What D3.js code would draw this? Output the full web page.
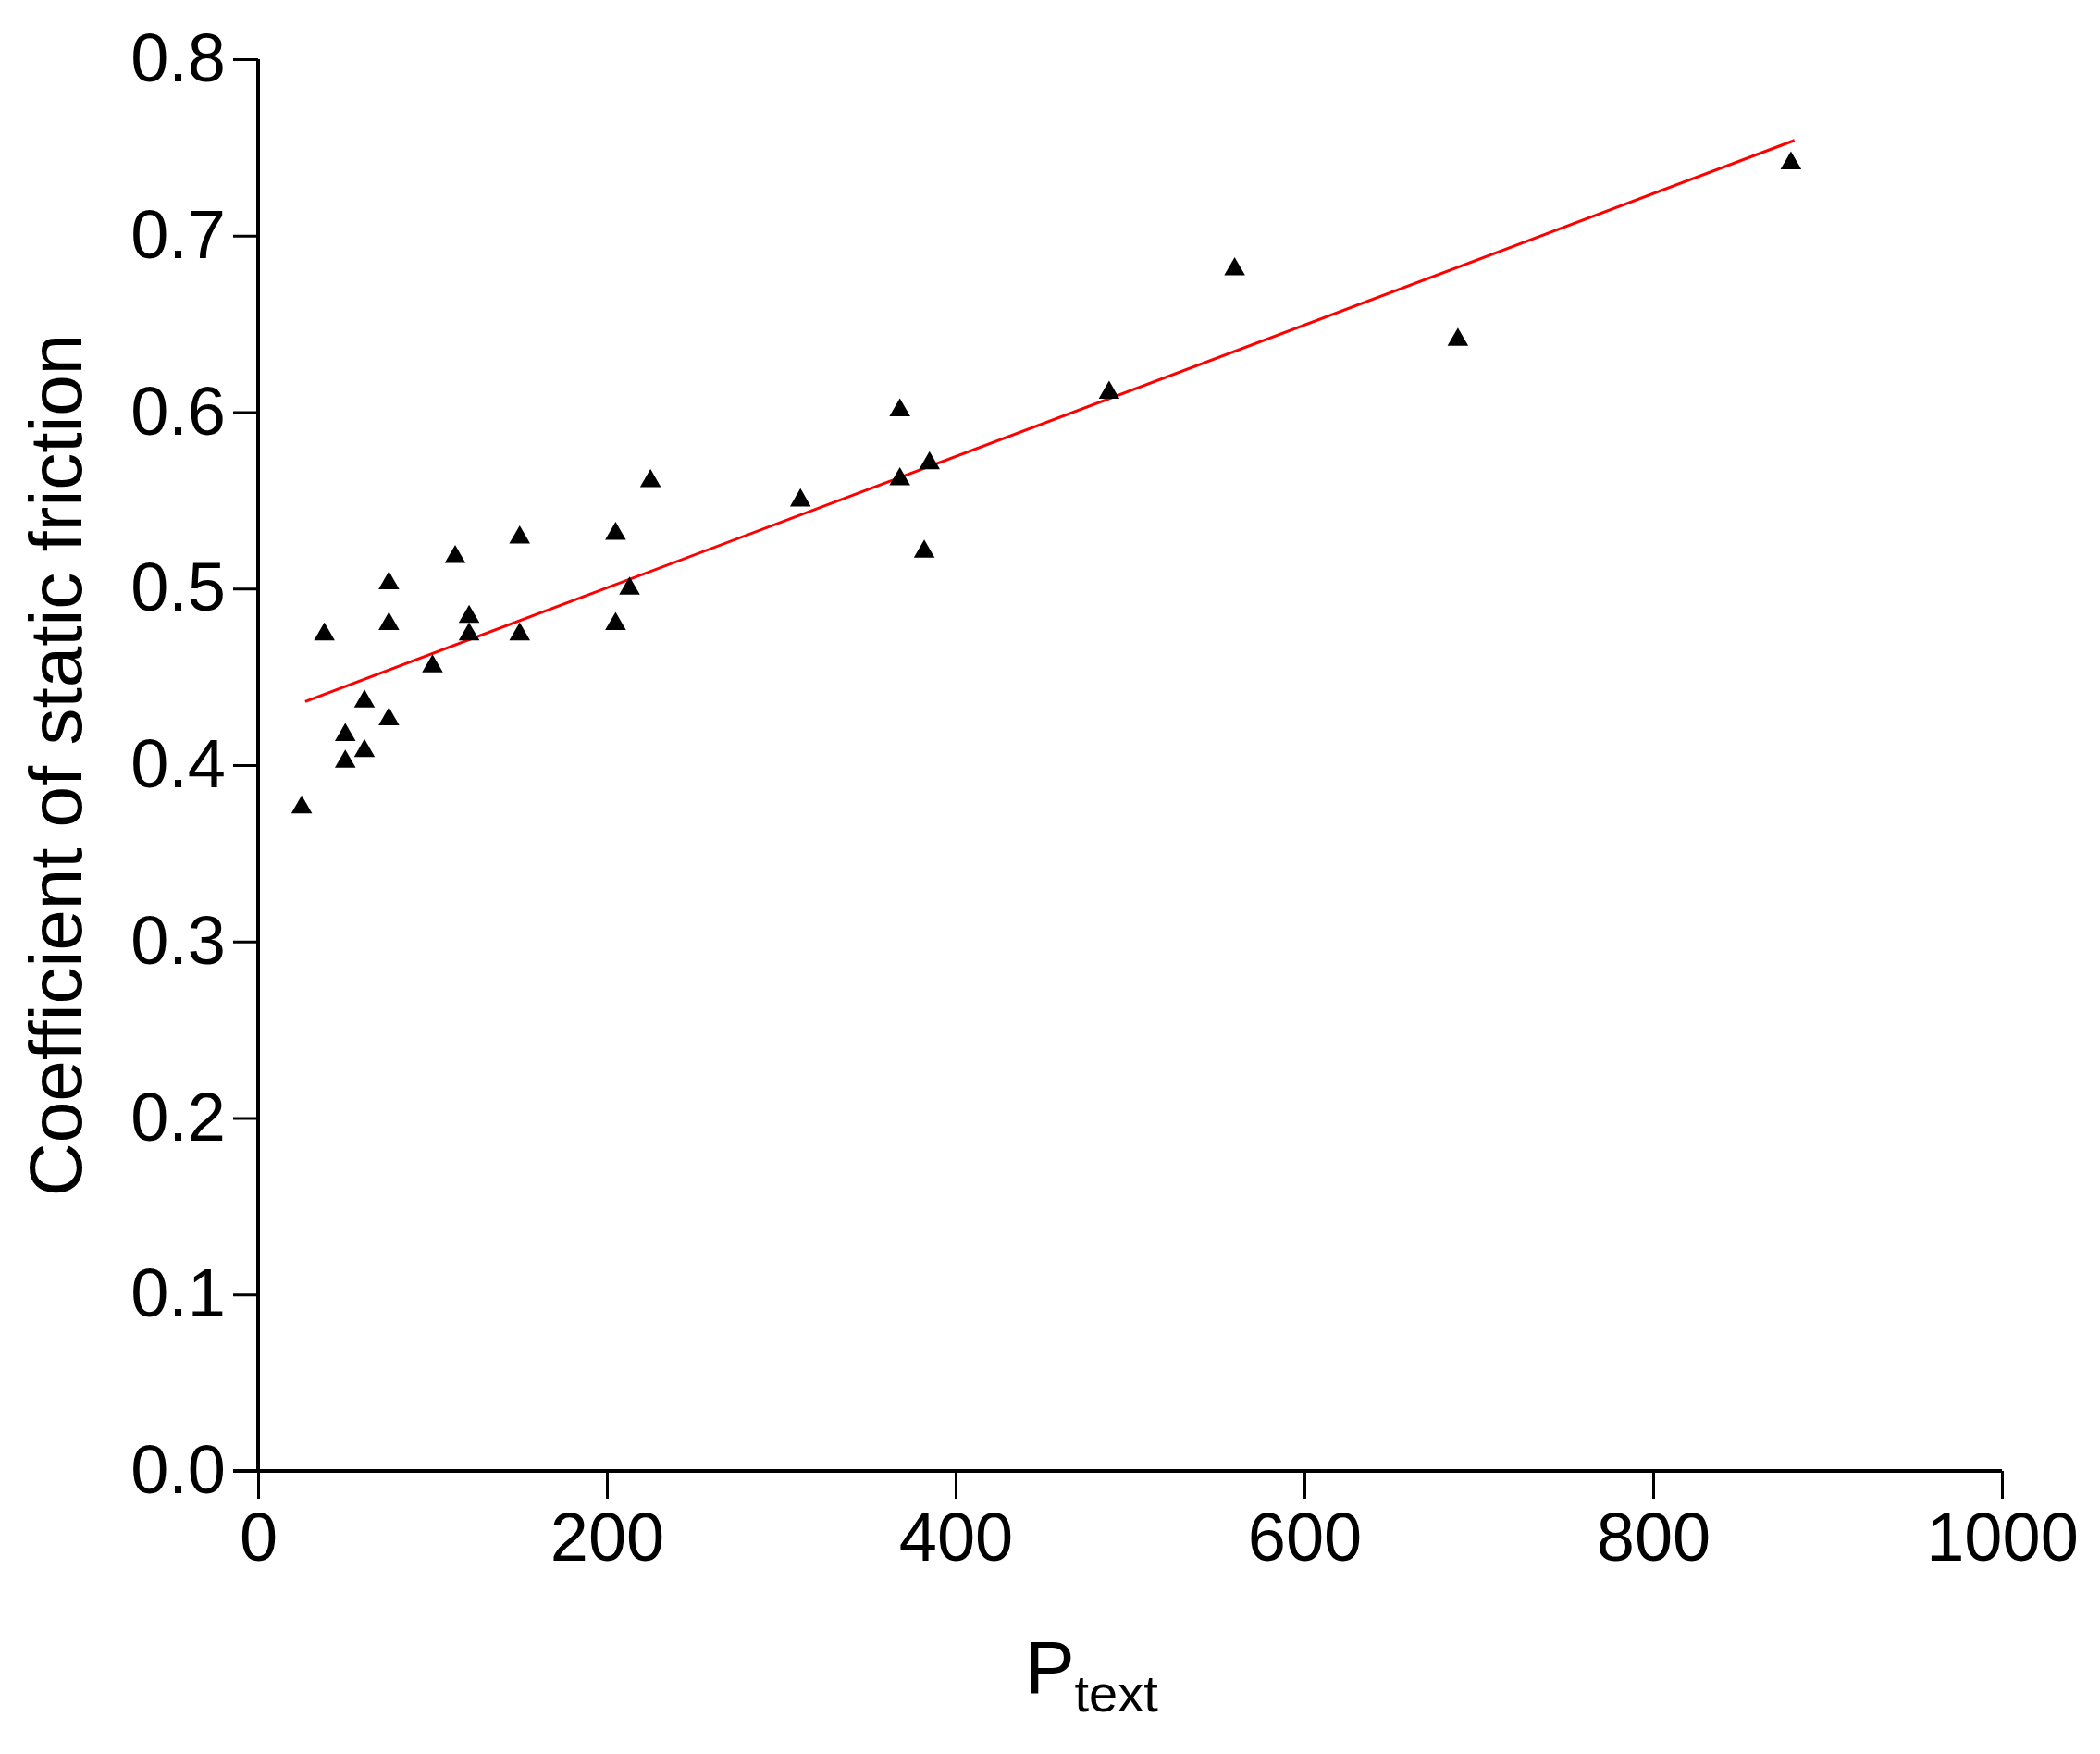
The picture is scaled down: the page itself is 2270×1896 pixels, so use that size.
<!DOCTYPE html>
<html><head><meta charset="utf-8">
<script src="https://cdn.jsdelivr.net/npm/d3@7"></script>
<style>body{margin:0;background:#fff}text{font-family:"Liberation Sans",Arial,sans-serif}</style>
</head><body><svg width="2270" height="1896"></svg>
<script>
const pText = [25,38,50,50,61,61,75,75,75,100,113,121,121,150,150,205,205,213,225,311,368,368,385,382,488,560,688,879];
const friction = [0.376,0.474,0.417,0.402,0.436,0.408,0.503,0.480,0.426,0.456,0.518,0.484,0.474,0.529,0.474,0.531,0.480,0.500,0.561,0.550,0.601,0.562,0.571,0.521,0.611,0.681,0.641,0.741];
const fitX = [27,881];
const fitY = [0.436,0.754];
const xTicks = [0,200,400,600,800,1000];
const yTicks = [0,0.1,0.2,0.3,0.4,0.5,0.6,0.7,0.8];

const svg = d3.select("svg");
const x = d3.scaleLinear().domain([0,1000]).range([279,2164]);
const y = d3.scaleLinear().domain([0,0.8]).range([1590,64]);

const xa = svg.append("g").attr("transform","translate(0,1590)")
  .call(d3.axisBottom(x).tickValues(xTicks).tickFormat(d3.format("d")).tickSizeInner(30).tickSizeOuter(0).tickPadding(14));
const ya = svg.append("g").attr("transform","translate(279,0)")
  .call(d3.axisLeft(y).tickValues(yTicks).tickFormat(d3.format(".1f")).tickSizeInner(27).tickSizeOuter(0).tickPadding(8));
[xa,ya].forEach(a=>{
  a.select(".domain").attr("stroke","#000").attr("stroke-width",4);
  a.selectAll(".tick line").attr("stroke","#000").attr("stroke-width",3);
  a.selectAll(".tick text").attr("fill","#000").style("font-size","74px");
});
ya.select(".domain").attr("d","M0,1590V64");
xa.select(".domain").attr("d",`M${279-27},0H2164`);

svg.append("path")
  .attr("d",d3.line().x(d=>x(d[0])).y(d=>y(d[1]))(fitX.map((v,i)=>[v,fitY[i]])))
  .attr("stroke","#ff0000").attr("stroke-width",3).attr("fill","none");

svg.append("g").selectAll("path").data(pText.map((v,i)=>[v,friction[i]])).join("path")
  .attr("transform",d=>`translate(${x(d[0])},${y(d[1])})`)
  .attr("d",d3.symbol(d3.symbolTriangle,220))
  .attr("fill","#000");

const xl = svg.append("text").attr("x",1180).attr("y",1830).attr("text-anchor","middle").style("font-size","80px");
xl.append("tspan").text("P");
xl.append("tspan").attr("dy",20).style("font-size","56px").text("text");

svg.append("text").attr("transform","translate(88,827) rotate(-90)").attr("text-anchor","middle")
  .style("font-size","80px").text("Coefficient of static friction");
</script></body></html>
